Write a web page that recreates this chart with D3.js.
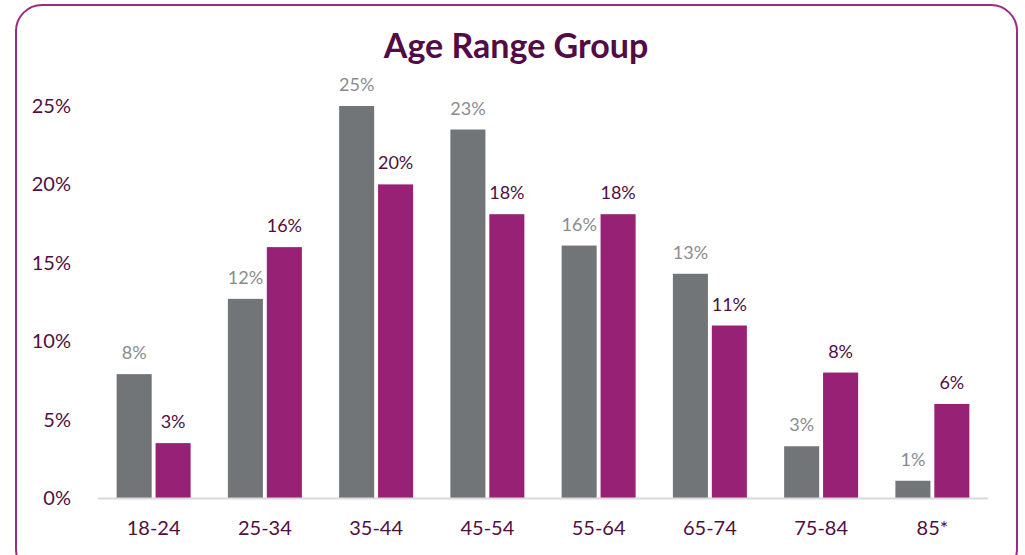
<!DOCTYPE html>
<html><head><meta charset="utf-8">
<script src="https://cdn.jsdelivr.net/npm/d3@7"></script>
<style>body{margin:0;background:#fff}svg{display:block}</style>
</head><body>
<svg id="c" width="1025" height="555"></svg>
<script>
const categories = ["18-24","25-34","35-44","45-54","55-64","65-74","75-84","85*"];
const seriesGray = [7.9, 12.7, 25.0, 23.5, 16.1, 14.3, 3.3, 1.1];
const seriesPurple = [3.5, 16.0, 20.0, 18.1, 18.1, 11.0, 8.0, 6.0];
const labelsGray = ["8%","12%","25%","23%","16%","13%","3%","1%"];
const labelsPurple = ["3%","16%","20%","18%","18%","11%","8%","6%"];
const yTicks = [0,5,10,15,20,25];
const title = "Age Range Group";

const svg = d3.select("#c");
const font = "Lato, 'Open Sans', sans-serif";
const darkPurple = "#4f0f42";
const gray = "#717578";
const purple = "#962175";

svg.append("rect").attr("x",16).attr("y",5).attr("width",1001).attr("height",570)
  .attr("rx",26).attr("ry",26).attr("fill","none").attr("stroke","#9b2a83").attr("stroke-width",2);

svg.append("text").attr("x",516).attr("y",58).attr("text-anchor","middle")
  .attr("font-family",font).attr("font-weight",700).attr("font-size",34)
  .attr("fill","#520b44").text(title);

const x = d3.scaleBand().domain(categories).range([98,988]).paddingInner(0.335).paddingOuter(0.1675);
const sub = d3.scaleBand().domain([0,1]).range([0,x.bandwidth()]).paddingInner(0.1);
const y = d3.scaleLinear().domain([0,25]).range([498,106]);

// y axis labels
const yAxis = d3.axisLeft(y).tickValues(yTicks).tickFormat(d=>d+"%").tickSize(0).tickPadding(0);
const ga = svg.append("g").attr("transform","translate(71,0)").call(yAxis);
ga.select(".domain").remove();
ga.selectAll("text").attr("font-family",font).attr("font-size",20).attr("fill",darkPurple);

// bars
const g = svg.append("g");
categories.forEach((c,i)=>{
  g.append("rect").attr("x",x(c)+sub(0)).attr("y",y(seriesGray[i]))
    .attr("width",sub.bandwidth()).attr("height",y(0)-y(seriesGray[i])).attr("fill",gray);
  g.append("rect").attr("x",x(c)+sub(1)).attr("y",y(seriesPurple[i]))
    .attr("width",sub.bandwidth()).attr("height",y(0)-y(seriesPurple[i])).attr("fill",purple);
  g.append("text").attr("x",x(c)+sub(0)+sub.bandwidth()/2).attr("y",y(seriesGray[i])-15)
    .attr("text-anchor","middle").attr("font-family",font).attr("font-size",18)
    .attr("fill","#8a8c8f").text(labelsGray[i]);
  g.append("text").attr("x",x(c)+sub(1)+sub.bandwidth()/2).attr("y",y(seriesPurple[i])-15)
    .attr("text-anchor","middle").attr("font-family",font).attr("font-size",18)
    .attr("fill",darkPurple).text(labelsPurple[i]);
});

// baseline
svg.append("line").attr("x1",98).attr("x2",988).attr("y1",y(0)+0.5).attr("y2",y(0)+0.5)
  .attr("stroke","#d9d9d9").attr("stroke-width",2);

// x axis labels
const xAxis = d3.axisBottom(x).tickSize(0).tickPadding(0);
const gx = svg.append("g").attr("transform","translate(0,521)").call(xAxis);
gx.select(".domain").remove();
gx.selectAll("text").attr("font-family",font).attr("font-size",20).attr("fill",darkPurple);
</script>
</body></html>
